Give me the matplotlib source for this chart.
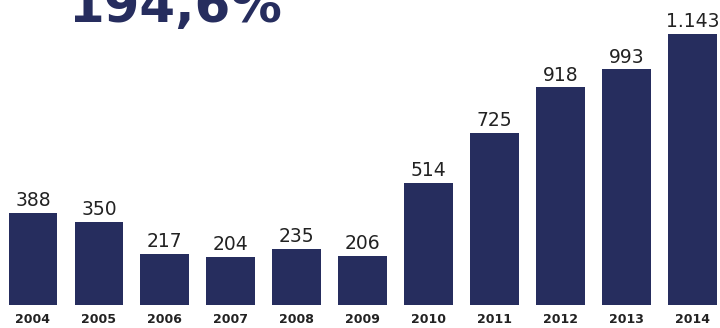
import matplotlib
matplotlib.use("Agg")
import matplotlib.pyplot as plt

# Datos del gráfico
years = ["2004", "2005", "2006", "2007", "2008", "2009",
         "2010", "2011", "2012", "2013", "2014"]
values = [388, 350, 217, 204, 235, 206, 514, 725, 918, 993, 1143]
headline = "194,6%"

NAVY = "#262d5e"

fig = plt.figure(figsize=(7.2, 3.28), dpi=100)
ax = fig.add_axes([0, 23 / 328, 1, 305 / 328])

x = list(range(len(years)))
ax.bar(x, values, width=0.74, color=NAVY)

for xi, v in zip(x, values):
    label = f"{v:,}".replace(",", ".")
    ax.annotate(label, (xi, v), xytext=(0, 2), textcoords="offset points",
                ha="center", va="bottom", fontsize=13.5, color="#222222")

ax.set_xlim(-0.5, 10.42)
ax.set_ylim(0, 1286)
ax.set_xticks(x)
ax.set_xticklabels(years, fontsize=9, fontweight="bold", color="#222222")
ax.tick_params(axis="x", length=0, pad=6)
ax.set_yticks([])
for s in ax.spines.values():
    s.set_visible(False)

fig.text(68 / 720, 1 - 22 / 328, headline, fontsize=37, fontweight="heavy",
         color=NAVY, ha="left", va="baseline")

fig.savefig("out.png", dpi=100)
